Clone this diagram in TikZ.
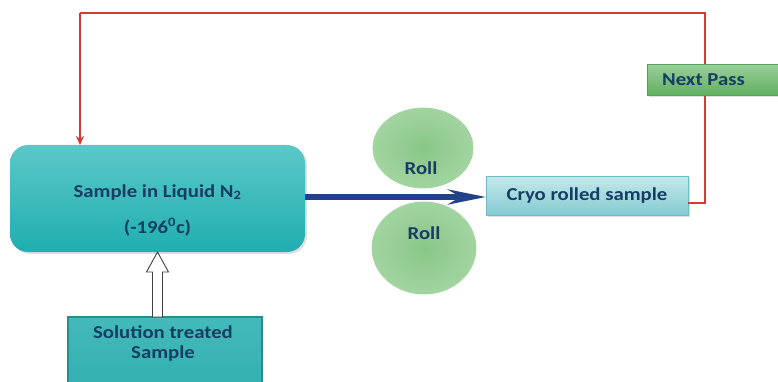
\documentclass[tikz,border=0pt]{standalone}
\usepackage{fontspec}
\setmainfont{Carlito}[FakeStretch=1.14]
\usetikzlibrary{arrows.meta,shapes.geometric,calc,shadows}
\definecolor{txt}{HTML}{163D63}
\definecolor{tealtop}{HTML}{5CC8C8}
\definecolor{tealbot}{HTML}{1FAEB0}
\definecolor{soltop}{HTML}{44BABA}
\definecolor{solbot}{HTML}{33B0B0}
\definecolor{solline}{HTML}{2A8C8E}
\definecolor{cryotop}{HTML}{C4E8EB}
\definecolor{cryobot}{HTML}{84CBD2}
\definecolor{cryoline}{HTML}{6DBCC4}
\definecolor{greentop}{HTML}{9ACF98}
\definecolor{greenbot}{HTML}{5FAF60}
\definecolor{greenline}{HTML}{55A055}
\definecolor{rollin}{HTML}{88C688}
\definecolor{rollout}{HTML}{A2D4A0}
\definecolor{redline}{HTML}{D63A36}
\definecolor{navy}{HTML}{22428A}
\tikzset{
  boxtext/.style={text=txt, font=\bfseries\fontsize{18.2}{20}\selectfont},
  mainbox/.style={rectangle, rounded corners=18pt, minimum width=295pt, minimum height=107pt,
    top color=tealtop, bottom color=tealbot, draw=none,
    drop shadow={opacity=0.25, shadow xshift=2pt, shadow yshift=-2pt}},
  solbox/.style={rectangle, minimum width=194pt, minimum height=68pt, top color=soltop, bottom color=solbot,
    draw=solline, line width=1.5pt},
  cryobox/.style={rectangle, minimum width=202pt, minimum height=39pt, top color=cryotop, bottom color=cryobot,
    draw=cryoline, line width=0.8pt, drop shadow={opacity=0.25, shadow xshift=2pt, shadow yshift=-2pt}, boxtext},
  nextbox/.style={rectangle, minimum width=131pt, minimum height=31pt, top color=greentop, bottom color=greenbot,
    draw=greenline, line width=0.8pt, drop shadow={opacity=0.25, shadow xshift=2pt, shadow yshift=-2pt}},
  rollshape/.style={ellipse, inner color=rollin, outer color=rollout, draw=rollout, line width=0.8pt},
  redconn/.style={draw=redline, line width=2pt},
  redtip/.style={draw=redline, line width=2pt, -{Stealth[length=9pt,width=8pt]}},
  blueconn/.style={draw=navy, line width=5.5pt, -{Stealth[length=38pt,width=15pt]}},
  blockarrow/.style={draw=black!75, line width=0.9pt, fill=white},
}
\begin{document}
\begin{tikzpicture}[x=1pt,y=-1pt]
\useasboundingbox (0,0) rectangle (778,382);
\fill[white] (0,0) rectangle (778,382);

\node[mainbox] (main) at (157.5,198.5) {};
\node[boxtext, align=center] (maintext) at (157.5,210) {Sample in Liquid N\textsubscript{2}\\[16pt](-196\textsuperscript{0}c)};
\node[solbox] (sol) at (165,351) {};
\node[boxtext, align=center] (soltext) at (163,344) {Solution treated\\Sample};
\node[cryobox] (cryo) at (587,195.5) {Cryo rolled sample};

\node[rollshape, minimum width=100pt, minimum height=80pt] (rolltop) at (423,148) {};
\node[rollshape, minimum width=104pt, minimum height=92pt] (rollbot) at (424,248) {};
\node[boxtext] (rolltoptext) at (421,168) {Roll};
\node[boxtext] (rollbottext) at (424,233) {Roll};

% red feedback loop
\coordinate (c1) at (705,203);
\coordinate (c2) at (705,13);
\coordinate (c3) at (80,13);
\coordinate (mtop) at (80,145);
\draw[redconn] (cryo.east |- c1) -- (c1) -- (c2) -- (c3);
\draw[redtip] (c3) -- (mtop);

\node[nextbox] (next) at (712.5,80) {};
\node[boxtext] (nexttext) at (703.5,80) {Next Pass};

% blue arrow through rolls
\coordinate (bs) at (305,197);
\coordinate (be) at (486,197);
\draw[blueconn] (bs) -- (be);

% white block arrow
\coordinate (tip) at (157.5,252);
\coordinate (hr) at (168.5,272);
\coordinate (sr) at (162.5,272);
\coordinate (br) at (162.5,317);
\coordinate (bl) at (152.5,317);
\coordinate (sl) at (152.5,272);
\coordinate (hl) at (146.5,272);
\draw[blockarrow] (tip) -- (hr) -- (sr) -- (br) -- (bl) -- (sl) -- (hl) -- cycle;
\end{tikzpicture}
\end{document}
